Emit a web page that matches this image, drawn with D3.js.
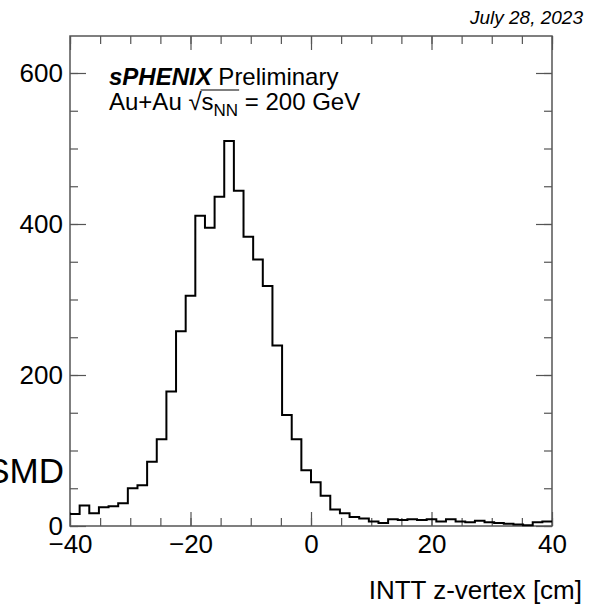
<!DOCTYPE html>
<html>
<head>
<meta charset="utf-8">
<script src="https://cdn.jsdelivr.net/npm/d3@7"></script>
<style>
  body { margin: 0; background: #fff; }
  svg { display: block; font-family: 'Liberation Sans', Arial, sans-serif; }
</style>
</head>
<body>
<svg width="590" height="606"></svg>
<script>
const svg = d3.select('svg');

// histogram: 50 bins of 1.6 cm from -40 to 40
const binLow = -40;
const binWidth = 1.6;
const counts = [
    16, 27, 17, 25, 26, 30, 50, 54, 85, 115,
    178, 258, 305, 411, 395, 436, 510, 444, 383, 353,
    318, 239, 147, 115, 74, 58, 40, 22, 17, 12,
    10, 6, 4, 9, 8, 9, 8, 9, 6, 9,
    6, 5, 7, 5, 4, 3, 2, 1, 5, 6
];

const xMajor = [-40, -20, 0, 20, 40];
const xMajorLabels = ['\u221240', '\u221220', '0', '20', '40'];
const xMinor = d3.range(-40, 40.1, 5);
const yMajor = [0, 200, 400, 600];
const yMinor = d3.range(0, 649, 50);

const margin = {top: 36, right: 38, bottom: 80, left: 70};
const width = 590, height = 606;
const innerWidth = width - margin.left - margin.right;
const innerHeight = height - margin.top - margin.bottom;

const xScale = d3.scaleLinear()
    .domain([-40, 40])
    .range([0, innerWidth]);

const yScale = d3.scaleLinear()
    .domain([0, 649])
    .range([innerHeight, 0]);

const g = svg.append('g')
    .attr('transform', `translate(${margin.left}, ${margin.top})`);

const axisColor = '#555';
const labelSize = 26;

// ticks point inward on all four sides (ROOT style)
const styleAxis = sel => {
    sel.select('.domain').remove();
    sel.selectAll('.tick line').attr('stroke', axisColor).attr('stroke-width', 1.2);
    sel.selectAll('.tick text').filter(function () { return !this.textContent; }).remove();
};

g.append('g').attr('transform', `translate(0, ${innerHeight})`)
    .call(d3.axisBottom(xScale).tickValues(xMinor).tickSize(-8).tickFormat(''))
    .call(styleAxis);
g.append('g')
    .call(d3.axisTop(xScale).tickValues(xMinor).tickSize(-8).tickFormat(''))
    .call(styleAxis);
g.append('g')
    .call(d3.axisLeft(yScale).tickValues(yMinor).tickSize(-8).tickFormat(''))
    .call(styleAxis);
g.append('g').attr('transform', `translate(${innerWidth}, 0)`)
    .call(d3.axisRight(yScale).tickValues(yMinor).tickSize(-8).tickFormat(''))
    .call(styleAxis);

// major ticks with labels
const xAxisG = g.append('g').attr('transform', `translate(0, ${innerHeight})`)
    .call(d3.axisBottom(xScale).tickValues(xMajor).tickSize(-14).tickPadding(9)
        .tickFormat((d, i) => xMajorLabels[i]))
    .call(styleAxis);
g.append('g')
    .call(d3.axisTop(xScale).tickValues(xMajor).tickSize(-14).tickFormat(''))
    .call(styleAxis);

const yAxisG = g.append('g')
    .call(d3.axisLeft(yScale).tickValues(yMajor).tickSize(-16).tickPadding(7))
    .call(styleAxis);
g.append('g').attr('transform', `translate(${innerWidth}, 0)`)
    .call(d3.axisRight(yScale).tickValues(yMajor).tickSize(-16).tickFormat(''))
    .call(styleAxis);

[xAxisG, yAxisG].forEach(a => a.selectAll('.tick text')
    .attr('fill', '#000')
    .style('font-size', labelSize + 'px')
    .style('font-family', "'Liberation Sans', Arial, sans-serif"));

// frame
g.append('rect')
    .attr('width', innerWidth)
    .attr('height', innerHeight)
    .attr('fill', 'none')
    .attr('stroke', axisColor)
    .attr('stroke-width', 1.5);

// histogram outline
const points = counts.map((c, i) => [binLow + i * binWidth, c]);
points.push([40, counts[counts.length - 1]]);

g.append('path')
    .datum(points)
    .attr('fill', 'none')
    .attr('stroke', '#000')
    .attr('stroke-width', 2)
    .attr('d', d3.line()
        .x(d => xScale(d[0]))
        .y(d => yScale(d[1]))
        .curve(d3.curveStepAfter));

// axis titles
svg.append('text')
    .attr('x', 582)
    .attr('y', 599)
    .attr('text-anchor', 'end')
    .style('font-size', '26px')
    .text('INTT z-vertex [cm]');

svg.append('text')
    .attr('x', 64)
    .attr('y', 483)
    .attr('text-anchor', 'end')
    .style('font-size', '35px')
    .text('SMD');

// date
svg.append('text')
    .attr('x', 583)
    .attr('y', 24)
    .attr('text-anchor', 'end')
    .style('font-size', '19px')
    .style('font-style', 'italic')
    .text('July 28, 2023');

// labels
const t1 = svg.append('text')
    .attr('x', 109)
    .attr('y', 85)
    .style('font-size', '24px');
t1.append('tspan').style('font-weight', 'bold').style('font-style', 'italic').text('sPHENIX');
t1.append('tspan').text(' Preliminary');

const t2 = svg.append('text')
    .attr('x', 109)
    .attr('y', 110)
    .style('font-size', '24px');
t2.append('tspan').text('Au+Au ');
t2.append('tspan').text('\u221A');
t2.append('tspan').text('s');
t2.append('tspan').attr('dy', 6).style('font-size', '17px').text('NN');
t2.append('tspan').attr('dy', -6).text(' = 200 GeV');

// overline of the square root
const n = t2.node();
const startS = n.getStartPositionOfChar(7).x;
const endNN = n.getEndPositionOfChar(9).x;
svg.append('line')
    .attr('x1', startS - 1)
    .attr('x2', endNN + 1)
    .attr('y1', 90)
    .attr('y2', 90)
    .attr('stroke', '#000')
    .attr('stroke-width', 1.2);
</script>
</body>
</html>
